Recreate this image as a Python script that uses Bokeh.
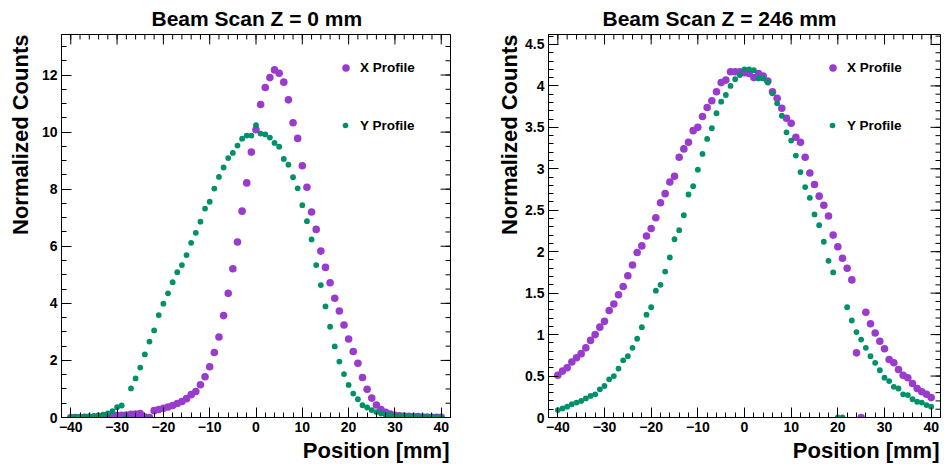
from bokeh.plotting import figure
from bokeh.models import (Range1d, FixedTicker, Legend, LegendItem, Title,
                          ColumnDataSource)
from bokeh.layouts import row
from bokeh.embed import file_html
from bokeh.resources import INLINE

# ---------------- data ----------------
positions = list(range(-40, 41))  # mm

z0_x_profile = [
    0.00, 0.00, 0.00, 0.01, 0.01, 0.02, 0.03, 0.04, 0.05, 0.06,   # -40..-31
    0.07, 0.08, 0.09, 0.11, 0.12, 0.14, 0.02, 0.00, 0.24, 0.28,   # -30..-21
    0.32, 0.37, 0.42, 0.49, 0.56, 0.66, 0.80, 0.91, 1.15, 1.43,   # -20..-11
    1.78, 2.28, 2.82, 3.57, 4.35, 5.21, 6.15, 7.23, 8.22, 9.30,   # -10..-1
    10.08,                                                         # 0
    10.97, 11.56, 11.91, 12.18, 12.06, 11.75, 11.13, 10.33, 9.78, 8.82,  # 1..10
    8.07, 7.20, 6.59, 5.83, 5.26, 4.72, 4.18, 3.73, 3.24, 2.75,   # 11..20
    2.31, 1.90, 1.40, 0.99, 0.68, 0.44, 0.28, 0.18, 0.12, 0.08,   # 21..30
    0.06, 0.05, 0.04, 0.03, 0.03, 0.02, 0.02, 0.01, 0.01, 0.01,   # 31..40
]
z0_y_profile = [
    0.01, 0.02, 0.02, 0.03, 0.04, 0.05, 0.07, 0.10, 0.14, 0.22,   # -40..-31
    0.36, 0.42, 0.00, 1.02, 1.37, 1.75, 2.21, 2.66, 3.05, 3.59,   # -30..-21
    3.99, 4.35, 4.74, 5.09, 5.34, 5.69, 6.12, 6.47, 6.86, 7.32,   # -20..-11
    7.56, 8.02, 8.43, 8.76, 9.09, 9.27, 9.53, 9.77, 9.88, 9.88,   # -10..-1
    10.24,                                                         # 0
    9.95, 9.92, 9.81, 9.62, 9.49, 9.06, 8.86, 8.42, 8.03, 7.44,   # 1..10
    6.88, 6.24, 5.34, 4.64, 3.89, 3.18, 2.49, 1.96, 1.52, 1.14,   # 11..20
    0.84, 0.64, 0.43, 0.35, 0.26, 0.19, 0.14, 0.10, 0.08, 0.06,   # 21..30
    0.05, 0.04, 0.03, 0.03, 0.02, 0.02, 0.02, 0.01, 0.01, 0.01,   # 31..40
]
z246_x_profile = [
    0.51, 0.56, 0.60, 0.67, 0.72, 0.77, 0.84, 0.93, 1.00, 1.09,   # -40..-31
    1.16, 1.29, 1.37, 1.48, 1.58, 1.71, 1.84, 1.99, 2.07, 2.19,   # -30..-21
    2.28, 2.41, 2.59, 2.70, 2.84, 2.91, 3.14, 3.24, 3.32, 3.46,   # -20..-11
    3.50, 3.63, 3.74, 3.82, 3.93, 4.04, 4.07, 4.17, 4.17, 4.17,   # -10..-1
    4.16,                                                          # 0
    4.15, 4.10, 4.15, 4.12, 4.06, 3.93, 3.85, 3.73, 3.61, 3.55,   # 1..10
    3.38, 3.32, 3.14, 2.95, 2.81, 2.67, 2.56, 2.43, 2.20, 2.06,   # 11..20
    1.92, 1.80, 1.66, 0.78, 0.00, 1.27, 1.13, 1.02, 0.92, 0.83,   # 21..30
    0.70, 0.66, 0.58, 0.51, 0.48, 0.41, 0.35, 0.31, 0.28, 0.24,   # 31..40
]
z246_y_profile = [
    0.09, 0.11, 0.13, 0.16, 0.18, 0.20, 0.23, 0.26, 0.28, 0.34,   # -40..-31
    0.38, 0.46, 0.50, 0.59, 0.69, 0.74, 0.84, 0.95, 1.09, 1.24,   # -30..-21
    1.33, 1.53, 1.60, 1.76, 1.93, 2.15, 2.26, 2.44, 2.69, 2.79,   # -20..-11
    2.99, 3.18, 3.36, 3.49, 3.67, 3.81, 3.89, 4.00, 4.08, 4.13,   # -10..-1
    4.20,                                                          # 0
    4.20, 4.19, 4.09, 4.09, 4.04, 3.91, 3.79, 3.64, 3.44, 3.34,   # 1..10
    3.16, 2.96, 2.78, 2.65, 2.45, 2.32, 2.12, 1.89, 1.75, 0.00,   # 11..20
    0.00, 1.33, 1.17, 1.03, 0.94, 0.84, 0.74, 0.66, 0.57, 0.48,   # 21..30
    0.44, 0.37, 0.35, 0.28, 0.27, 0.22, 0.19, 0.18, 0.15, 0.13,   # 31..40
]

titles = ["Beam Scan Z = 0 mm", "Beam Scan Z = 246 mm"]
x_title = "Position [mm]"
y_title = "Normalized Counts"
legend_labels = ["X Profile", "Y Profile"]

x_major = [-40, -30, -20, -10, 0, 10, 20, 30, 40]
x_minor = [v for v in range(-42, 43, 2)]
z0_y_major = [0, 2, 4, 6, 8, 10, 12]
z0_y_minor = [i * 0.5 for i in range(0, 27)]
z246_y_major = [round(i * 0.5, 1) for i in range(0, 10)]
z246_y_minor = [round(i * 0.1, 1) for i in range(0, 47)]

PURPLE = "#9A3BCF"
GREEN = "#00906A"
FONT = "Liberation Sans"
X0, X1 = -42, 42
FRAME_W, FRAME_H = 392, 384
MAJ, MIN = 10, 5


def fmt(v):
    return ("%g" % v).replace("-", "\u2212")


def style_axis(ax, ticker):
    ax.ticker = ticker
    ax.axis_line_color = "black"
    ax.major_tick_line_color = "black"
    ax.minor_tick_line_color = "black"
    ax.major_tick_in = MAJ
    ax.major_tick_out = 0
    ax.minor_tick_in = MIN
    ax.minor_tick_out = 0
    ax.major_label_text_font = FONT
    ax.major_label_text_font_style = "bold"
    ax.major_label_text_font_size = "14px"
    ax.major_label_text_color = "black"
    ax.major_label_standoff = 4
    ax.major_label_overrides = {t: fmt(t) for t in ticker.ticks}


def opposite_ticks(p, ymax, y_major, y_minor):
    """tick marks on the top and right frame edges (ROOT style)"""
    dy_maj = MAJ * ymax / FRAME_H
    dy_min = MIN * ymax / FRAME_H
    dx_maj = MAJ * (X1 - X0) / FRAME_W
    dx_min = MIN * (X1 - X0) / FRAME_W
    x0s, y0s, x1s, y1s = [], [], [], []
    for t in x_major:
        x0s += [t]; x1s += [t]; y0s += [ymax]; y1s += [ymax - dy_maj]
    for t in x_minor:
        x0s += [t]; x1s += [t]; y0s += [ymax]; y1s += [ymax - dy_min]
    for t in y_major:
        x0s += [X1]; x1s += [X1 - dx_maj]; y0s += [t]; y1s += [t]
    for t in y_minor:
        x0s += [X1]; x1s += [X1 - dx_min]; y0s += [t]; y1s += [t]
    p.segment(x0=x0s, y0=y0s, x1=x1s, y1=y1s, line_color="black", line_width=1)


def make_panel(title, yx, yy, ymax, y_major, y_minor, border_left, border_right,
               title_offset, ytitle_standoff):
    p = figure(width=border_left + FRAME_W + border_right,
               height=33 + FRAME_H + 51,
               x_range=Range1d(X0, X1), y_range=Range1d(0, ymax),
               output_backend="svg", toolbar_location=None,
               min_border_left=border_left, min_border_right=border_right,
               min_border_top=33, min_border_bottom=51)
    p.outline_line_color = "black"
    p.outline_line_width = 1
    p.grid.visible = False
    p.background_fill_color = "white"
    p.border_fill_color = "white"

    style_axis(p.xaxis[0], FixedTicker(ticks=x_major, minor_ticks=x_minor))
    style_axis(p.yaxis[0], FixedTicker(ticks=y_major, minor_ticks=y_minor))
    opposite_ticks(p, ymax, y_major, y_minor)

    p.title.text = title
    p.title.align = "left"
    p.title.offset = title_offset
    p.title.standoff = 9
    p.title.vertical_align = "bottom"
    p.title.text_font = FONT
    p.title.text_font_style = "bold"
    p.title.text_font_size = "21px"
    p.title.text_color = "black"

    p.add_layout(Title(text=y_title, align="right", vertical_align="bottom",
                       standoff=ytitle_standoff, text_font=FONT,
                       text_font_style="bold", text_font_size="22px",
                       text_color="black"), "left")
    p.add_layout(Title(text=x_title, align="right", vertical_align="top",
                       standoff=6, offset=1, text_font=FONT,
                       text_font_style="bold", text_font_size="22px",
                       text_color="black"), "below")

    src = ColumnDataSource(data=dict(pos=positions, xp=yx, yp=yy))
    rx = p.scatter(x="pos", y="xp", source=src, size=7.6, fill_color=PURPLE,
                   line_color=None)
    ry = p.scatter(x="pos", y="yp", source=src, size=5.8, fill_color=GREEN,
                   line_color=None)

    common = dict(padding=0, margin=0, spacing=0, border_line_color=None,
                  background_fill_alpha=0, label_text_font=FONT,
                  label_text_font_style="bold", label_text_font_size="13.5px",
                  label_text_color="black")
    leg1 = Legend(items=[LegendItem(label=legend_labels[0], renderers=[rx])],
                  location=(275, 340), glyph_width=19, glyph_height=19,
                  label_height=19, label_standoff=5, **common)
    leg2 = Legend(items=[LegendItem(label=legend_labels[1], renderers=[ry])],
                  location=(277, 284), glyph_width=14, glyph_height=16,
                  label_height=16, label_standoff=8, **common)
    p.add_layout(leg1)
    p.add_layout(leg2)
    return p


p1 = make_panel(titles[0], z0_x_profile, z0_y_profile, 13.42, z0_y_major, z0_y_minor,
                58, 20, 90, 11)
p2 = make_panel(titles[1], z246_x_profile, z246_y_profile, 4.62, z246_y_major,
                z246_y_minor, 78, 2, 54, 2)

layout = row(p1, p2)
open("out.html", "w").write(file_html(layout, INLINE))
